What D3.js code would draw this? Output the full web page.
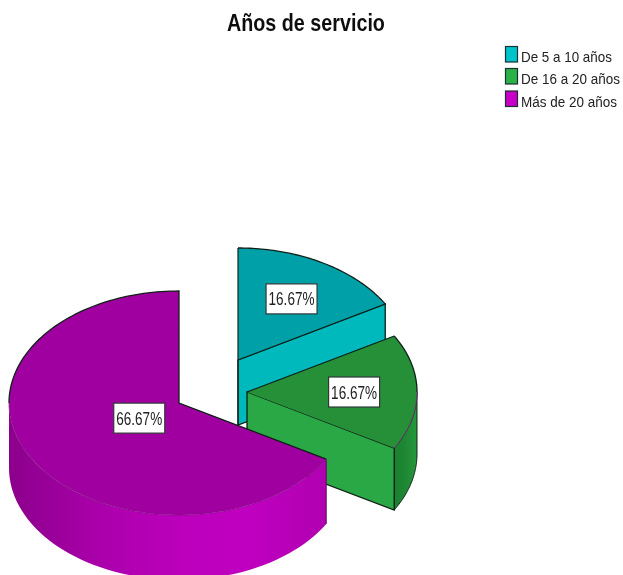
<!DOCTYPE html>
<html><head><meta charset="utf-8">
<script src="https://cdnjs.cloudflare.com/ajax/libs/d3/7.8.5/d3.min.js"></script>
<style>html,body{margin:0;padding:0;background:#fff;overflow:hidden}svg{display:block}
text{font-family:"Liberation Sans",Arial,sans-serif}</style>
</head><body><svg id="c" width="623" height="575"></svg>
<script>
const title = "Años de servicio";
const categories = ["De 5 a 10 años", "De 16 a 20 años", "Más de 20 años"];
const values = [16.67, 16.67, 66.67];
const labels = ["16.67%", "16.67%", "66.67%"];

const topColors = ["#00a0a8", "#259038", "#a000a0"];
const faceColors = ["#00b9bd", "#2ba845", "#b400b4"];
const legendColors = ["#00c4cc", "#2bb24a", "#c800c8"];
const legendWidths = [91, 99, 96];
const wallStops = [
  [],
  [["0%", "#1d7f30"], ["60%", "#208a35"], ["100%", "#249a3c"]],
  [["0%", "#8c008c"], ["12%", "#980098"], ["30%", "#ac00ac"], ["55%", "#bc00bc"], ["75%", "#c000c0"], ["100%", "#b000b0"]]
];
const centers = [[238, 360], [247, 392], [179, 403]];
const depths = [65, 62, 65];
const labelFractions = [0.63, 0.63, 0.27];

const rx = 170, ry = 112;
const svg = d3.select("#c");
const defs = svg.append("defs");
defs.append("filter").attr("id", "soft").attr("filterUnits", "userSpaceOnUse")
  .attr("x", 0).attr("y", 0).attr("width", 623).attr("height", 575)
  .append("feGaussianBlur").attr("stdDeviation", 0.45);
const root = svg.append("g").attr("filter", "url(#soft)");
const ink = "#102018";

const pie = d3.pie().sort(null).value(d => d).startAngle(0).endAngle(2 * Math.PI);
const slices = pie(values);
const xs = d3.scaleLinear().domain([-1, 1]).range([-rx, rx]);
const ys = d3.scaleLinear().domain([-1, 1]).range([-ry, ry]);
const pt = (i, a, f = 1, dz = 0) => [
  centers[i][0] + xs(Math.sin(a) * f),
  centers[i][1] + ys(-Math.cos(a) * f) + dz
];
const arcPts = (i, a0, a1, dz) => d3.range(0, 61).map(k => pt(i, a0 + (a1 - a0) * k / 60, 1, dz));
const line = d3.line();

// text squeezed horizontally to a measured width, like the narrow face of the original
function fitted(x, y, size, width, str, fill, weight) {
  const t = root.append("text").attr("font-size", size).attr("fill", fill)
    .attr("font-weight", weight || "normal").text(str);
  const k = width / t.node().getComputedTextLength();
  t.attr("transform", `translate(${x},${y}) scale(${k},1)`);
  return t;
}

slices.forEach((s, i) => {
  const a0 = s.startAngle, a1 = s.endAngle, depth = depths[i];
  const g = root.append("g");
  // outer wall: only the front-facing part of the rim
  const w0 = Math.max(a0, Math.PI / 2), w1 = Math.min(a1, 3 * Math.PI / 2);
  if (w1 > w0) {
    const id = "wall" + i;
    const lg = defs.append("linearGradient").attr("id", id).attr("gradientUnits", "userSpaceOnUse");
    const px0 = pt(i, w0)[0], px1 = pt(i, w1)[0];
    lg.attr("x1", Math.min(px0, px1)).attr("x2", Math.max(px0, px1)).attr("y1", 0).attr("y2", 0);
    wallStops[i].forEach(st => lg.append("stop").attr("offset", st[0]).attr("stop-color", st[1]));
    const top = arcPts(i, w0, w1, 0), bot = arcPts(i, w1, w0, depth);
    g.append("path").attr("d", line(top.concat(bot)) + "Z").attr("fill", `url(#${id})`)
      .attr("stroke", i === 2 ? "none" : ink).attr("stroke-width", 1);
    if (i === 2) {
      const e = pt(i, a0);
      g.append("path").attr("d", line([e, [e[0], e[1] + depth]])).attr("fill", "none")
        .attr("stroke", "#5a105a").attr("stroke-width", 1);
    }
  }
  // cut face at the end angle (visible for slices whose end faces the viewer)
  if (i < 2) {
    const c = pt(i, 0, 0), e = pt(i, a1);
    const quad = [c, e, [e[0], e[1] + depth], [c[0], c[1] + depth]];
    g.append("path").attr("d", line(quad) + "Z").attr("fill", faceColors[i])
      .attr("stroke", ink).attr("stroke-width", 1.3);
  }
  // top
  const rim = arcPts(i, a0, a1, 0);
  g.append("path").attr("d", line([pt(i, 0, 0)].concat(rim)) + "Z")
    .attr("fill", topColors[i]).attr("stroke", "none");
  const front = i === 2 ? arcPts(i, a0, Math.PI * 1.5, 0) : i === 1 ? arcPts(i, Math.PI / 2, a1, 0) : [];
  const back = i === 2 ? arcPts(i, Math.PI * 1.5, a1, 0) : i === 1 ? arcPts(i, a0, Math.PI / 2, 0) : rim;
  g.append("path").attr("d", line(back.concat(i === 2 ? [pt(i, 0, 0), pt(i, a0)] : i === 1 ? [] : [pt(i, 0, 0)])))
    .attr("fill", "none").attr("stroke", ink).attr("stroke-width", 1.3);
  if (i === 0) g.append("path").attr("d", line([pt(i, a0), [pt(i, a0)[0], pt(i, 0, 0)[1] + depth]]))
    .attr("fill", "none").attr("stroke", ink).attr("stroke-width", 1.2);
  if (i === 1) g.append("path").attr("d", line([pt(i, 0, 0), pt(i, a0)])).attr("stroke", ink).attr("stroke-width", 1.3).attr("fill", "none");
  if (front.length) g.append("path").attr("d", line(front)).attr("fill", "none")
    .attr("stroke", "#8a108a").attr("stroke-width", 0.7).attr("stroke-dasharray", i === 2 ? "none" : null);
});

// value labels
slices.forEach((s, i) => {
  const mid = (s.startAngle + s.endAngle) / 2;
  const [x, y] = pt(i, mid, labelFractions[i]);
  root.append("rect").attr("x", x - 25.5).attr("y", y - 15).attr("width", 51).attr("height", 30)
    .attr("fill", "#fff").attr("stroke", "#303838").attr("stroke-width", 1.2);
  fitted(x - 23, y + 6.5, 18, 46, labels[i], "#222");
});

// title
fitted(227, 30.5, 23, 158, title, "#111", "bold");

// legend
const legendY = d3.scaleOrdinal().domain(categories).range([54, 76, 98.5]);
categories.forEach((c, i) => {
  root.append("rect").attr("x", 505.5).attr("y", legendY(c) - 7.5).attr("width", 12).attr("height", 15.5)
    .attr("fill", legendColors[i]).attr("stroke", "#1c3030").attr("stroke-width", 1.2);
  fitted(521, legendY(c) + 8, 15, legendWidths[i], c, "#222");
});
</script></body></html>
